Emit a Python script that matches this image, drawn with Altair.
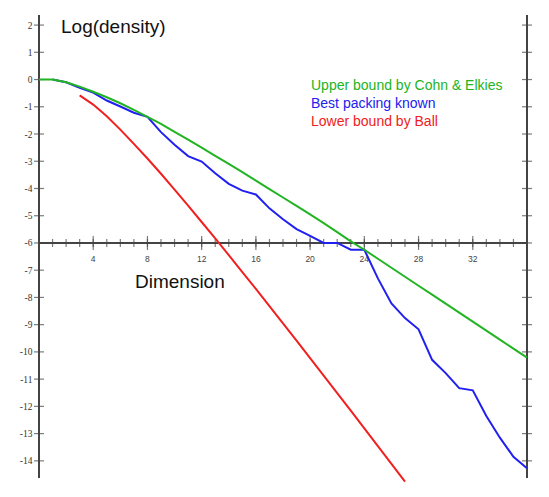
import altair as alt
import pandas as pd

# ---- data ----
upper_dims = list(range(0, 37))
upper_vals = [0.0, 0.0, -0.10, -0.26, -0.45, -0.65, -0.87, -1.11, -1.37,
              -1.63, -1.92, -2.21, -2.50, -2.80, -3.10, -3.40, -3.71,
              -4.02, -4.33, -4.64, -4.95, -5.27, -5.60, -5.94, -6.25,
              -6.58, -6.91, -7.24, -7.57, -7.90, -8.23, -8.56, -8.89,
              -9.22, -9.55, -9.88, -10.21]

best_dims = list(range(1, 37))
best_vals = [0.0, -0.10, -0.30, -0.48, -0.77, -0.99, -1.22, -1.37, -1.93,
             -2.39, -2.81, -3.01, -3.44, -3.83, -4.08, -4.22, -4.73, -5.13,
             -5.49, -5.74, -6.00, -6.00, -6.25, -6.25, -7.30, -8.22, -8.76,
             -9.17, -10.29, -10.78, -11.33, -11.41, -12.35, -13.15, -13.85,
             -14.27]

ball_dims = list(range(3, 28))
ball_vals = [-0.58, -0.92, -1.35, -1.84, -2.36, -2.90, -3.46, -4.04, -4.63,
             -5.23, -5.83, -6.45, -7.07, -7.69, -8.32, -8.95, -9.59, -10.23,
             -10.87, -11.51, -12.16, -12.81, -13.46, -14.11, -14.76]

y_ticks = list(range(2, -15, -1))
x_minor = list(range(1, 36))
x_major = [4, 8, 12, 16, 20, 24, 28, 32]
x_cross = -6

legend_labels = ["Upper bound by Cohn & Elkies", "Best packing known", "Lower bound by Ball"]
series_colors = ["#22b422", "#2020f0", "#f02020"]
title_text = "Log(density)"
xlabel_text = "Dimension"

# ---- chart ----
W, H = 488, 463
AX = "#444444"

xs = alt.Scale(domain=[0, 36], nice=False, zero=False)
ys = alt.Scale(domain=[-14.63, 2.37], nice=False, zero=False)

df_upper = pd.DataFrame({"dim": upper_dims, "value": upper_vals})
df_best = pd.DataFrame({"dim": best_dims, "value": best_vals})
df_ball = pd.DataFrame({"dim": ball_dims, "value": ball_vals})
df_yt = pd.DataFrame({"value": y_ticks})
df_xminor = pd.DataFrame({"dim": x_minor})
df_xmajor = pd.DataFrame({"dim": x_major})

yaxis = alt.Axis(values=y_ticks, orient="left", domain=False, ticks=False, grid=False,
                 labelPadding=7, labelFont="Liberation Serif", labelFontSize=9.5,
                 labelColor="#333333", labelFlush=False, title=None,
                 labelExpr="'' + datum.value")


def line_layer(df, color, with_axis=False):
    return alt.Chart(df).mark_line(color=color, strokeWidth=2).encode(
        x=alt.X("dim:Q", scale=xs, axis=None),
        y=alt.Y("value:Q", scale=ys, axis=yaxis if with_axis else None),
    )


blue = line_layer(df_best, series_colors[1], with_axis=True)
green = line_layer(df_upper, series_colors[0])
red = line_layer(df_ball, series_colors[2])

left_line = alt.Chart(df_yt).mark_rule(color=AX, strokeWidth=1.6).encode(
    x=alt.XDatum(0, axis=None), y=alt.value(0), y2=alt.value(H))
right_line = alt.Chart(df_yt).mark_rule(color=AX, strokeWidth=1.6).encode(
    x=alt.XDatum(36, axis=None), y=alt.value(0), y2=alt.value(H))
x_line = alt.Chart(df_yt).mark_rule(color=AX, strokeWidth=1.6).encode(
    y=alt.YDatum(x_cross, axis=None), x=alt.value(0), x2=alt.value(W))

left_ticks = alt.Chart(df_yt).mark_tick(orient="horizontal", size=10, thickness=1.2, color=AX).encode(
    x=alt.XDatum(0, axis=None), y=alt.Y("value:Q", axis=None))
right_ticks = alt.Chart(df_yt).mark_tick(orient="horizontal", size=10, thickness=1.2, color=AX).encode(
    x=alt.XDatum(36, axis=None), y=alt.Y("value:Q", axis=None))
minor_ticks = alt.Chart(df_xminor).mark_tick(orient="vertical", size=8, thickness=1.2, color=AX).encode(
    x=alt.X("dim:Q", axis=None), y=alt.YDatum(x_cross, axis=None))
major_ticks = alt.Chart(df_xmajor).mark_tick(orient="vertical", size=14, thickness=1.2, color=AX).encode(
    x=alt.X("dim:Q", axis=None), y=alt.YDatum(x_cross, axis=None))
x_labels = alt.Chart(df_xmajor).mark_text(dy=16, fontSize=8.5, font="Liberation Sans",
                                          color="#444444", baseline="middle", align="center").encode(
    x=alt.X("dim:Q", axis=None), y=alt.YDatum(x_cross, axis=None), text=alt.Text("dim:Q"))


def free_text(txt, px, py, size, color):
    return alt.Chart(pd.DataFrame({"t": [txt]})).mark_text(
        fontSize=size, font="Liberation Sans", color=color, align="left", baseline="alphabetic"
    ).encode(text="t:N", x=alt.value(px), y=alt.value(py))


texts = [
    free_text(title_text, 22, 18, 19, "#111111"),
    free_text(xlabel_text, 96, 273, 19, "#111111"),
    free_text(legend_labels[0], 272, 75, 14, series_colors[0]),
    free_text(legend_labels[1], 272, 93, 14, series_colors[1]),
    free_text(legend_labels[2], 272, 111, 14, series_colors[2]),
]

chart = alt.layer(
    left_line, right_line, x_line,
    left_ticks, right_ticks, minor_ticks, major_ticks, x_labels,
    blue, green, red,
    *texts,
).resolve_axis(
    x="independent", y="independent"
).properties(
    width=W, height=H,
    autosize=alt.AutoSizeParams(type="none"),
    padding={"left": 31, "top": 7, "right": 14, "bottom": 11},
).configure_view(stroke=None)

chart.save("out.html", embed_options={"renderer": "svg", "actions": False})
